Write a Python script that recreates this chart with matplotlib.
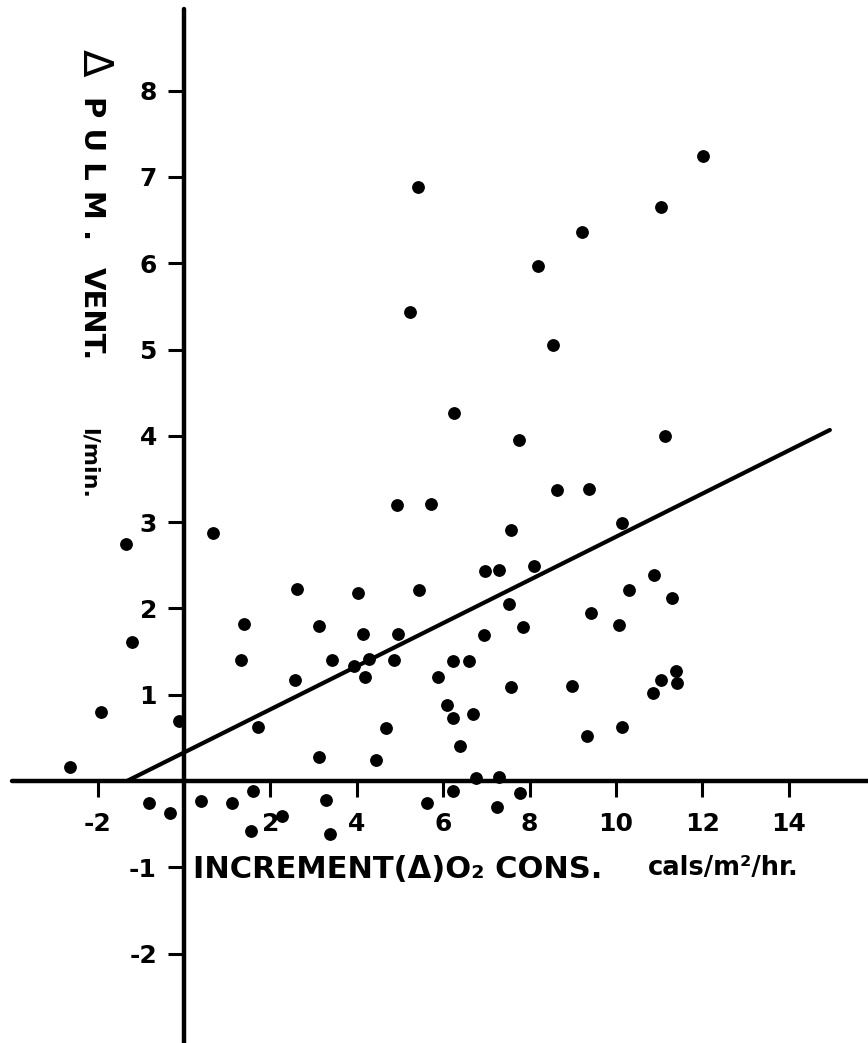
import numpy as np
import matplotlib
matplotlib.use('Agg')
import matplotlib.pyplot as plt

plt.rcParams['font.family'] = ['DejaVu Sans']
plt.rcParams['font.weight'] = 'bold'

# increment in O2 consumption (cals/m2/hr) for each subject
o2_incr = [-2.64, -1.91, -1.35, -1.21, -0.81, -0.32, -0.12, 0.66, 0.39, 1.12,
           1.39, 1.31, 1.72, 1.60, 1.54, 2.26, 2.57, 2.62, 3.13, 3.13,
           3.29, 3.38, 3.43, 4.03, 3.94, 4.14, 4.29, 4.19, 4.44, 4.68,
           4.85, 4.95, 4.92, 5.22, 5.41, 5.45, 5.62, 5.71, 5.87, 6.08,
           6.22, 6.23, 6.23, 6.25, 6.39, 6.60, 6.70, 6.76, 6.94, 6.97,
           7.29, 7.29, 7.24, 7.52, 7.57, 7.58, 7.75, 7.78, 7.84, 8.11,
           8.19, 8.53, 8.63, 8.99, 9.21, 9.32, 9.38, 9.42, 10.08, 10.15,
           10.15, 10.31, 10.86, 10.88, 11.03, 11.03, 11.13, 11.30, 11.39, 11.42,
           12.02]

# matching increment in pulmonary ventilation (l/min)
vent_incr = [0.16, 0.80, 2.75, 1.61, -0.26, -0.37, 0.70, 2.87, -0.23, -0.26,
             1.82, 1.40, 0.62, -0.12, -0.58, -0.40, 1.17, 2.22, 1.80, 0.28,
             -0.22, -0.61, 1.40, 2.18, 1.33, 1.70, 1.41, 1.21, 0.24, 0.61,
             1.40, 1.70, 3.20, 5.43, 6.88, 2.21, -0.26, 3.21, 1.21, 0.88,
             0.73, 1.39, -0.12, 4.27, 0.40, 1.39, 0.78, 0.04, 1.69, 2.43,
             2.45, 0.05, -0.30, 2.05, 2.91, 1.09, 3.95, -0.14, 1.79, 2.49,
             5.97, 5.05, 3.37, 1.10, 6.36, 0.52, 3.38, 1.95, 1.81, 2.99,
             0.63, 2.21, 1.02, 2.39, 6.65, 1.17, 4.00, 2.12, 1.27, 1.13,
             7.24]

# fitted regression line
fit_intercept = 0.33
fit_slope = 0.25
fit_range = [-1.3, 14.95]

xticks = [-2, 2, 4, 6, 8, 10, 12, 14]
yticks = [-2, -1, 1, 2, 3, 4, 5, 6, 7, 8]

fig = plt.figure(figsize=(8.68, 10.43), dpi=100)
ax = fig.add_axes([0, 0, 1, 1])
ax.set_xlim(-4.259, 15.833)
ax.set_ylim(-3.036, 9.05)

# axes crossing at the origin
for s in ['top', 'right']:
    ax.spines[s].set_visible(False)
ax.spines['left'].set_position(('data', 0))
ax.spines['bottom'].set_position(('data', 0))
ax.spines['left'].set_bounds(-3.04, 8.95)
ax.spines['bottom'].set_bounds(-3.98, 15.83)
for s in ['left', 'bottom']:
    ax.spines[s].set_linewidth(3.2)
    ax.spines[s].set_capstyle('round')

ax.set_xticks(xticks)
ax.set_xticklabels([str(t) for t in xticks])
ax.set_yticks(yticks)
ax.set_yticklabels([str(t) for t in yticks])
ax.tick_params(axis='both', direction='out', length=11.5, width=2.2,
               labelsize=18)
ax.tick_params(axis='x', pad=11)
ax.tick_params(axis='y', pad=8)
ax.patch.set_visible(False)

# data points
ax.plot(o2_incr, vent_incr, 'o', color='black', markersize=8.2, zorder=3)

# regression line
xs = np.array(fit_range)
ax.plot(xs, fit_intercept + fit_slope * xs, color='black', linewidth=3.0,
        solid_capstyle='round')

# axis titles, hand lettered in the original
ax.text(-2.08, 8.32, 'Δ', rotation=-90, ha='center', va='center', fontsize=29,
        fontweight='normal')
ax.text(-2.13, 7.10, 'P U L M .', rotation=-90, ha='center', va='center', fontsize=21)
ax.text(-2.13, 5.42, 'VENT.', rotation=-90, ha='center', va='center', fontsize=21)
ax.text(-2.2, 3.68, 'l/min.', rotation=-90, ha='center', va='center', fontsize=16)

ax.text(0.21, -1.03, 'INCREMENT(Δ)O₂ CONS.', ha='left', va='center', fontsize=22)
ax.text(10.74, -1.01, 'cals/m²/hr.', ha='left', va='center', fontsize=18.5)

plt.savefig('out.png', dpi=100)
